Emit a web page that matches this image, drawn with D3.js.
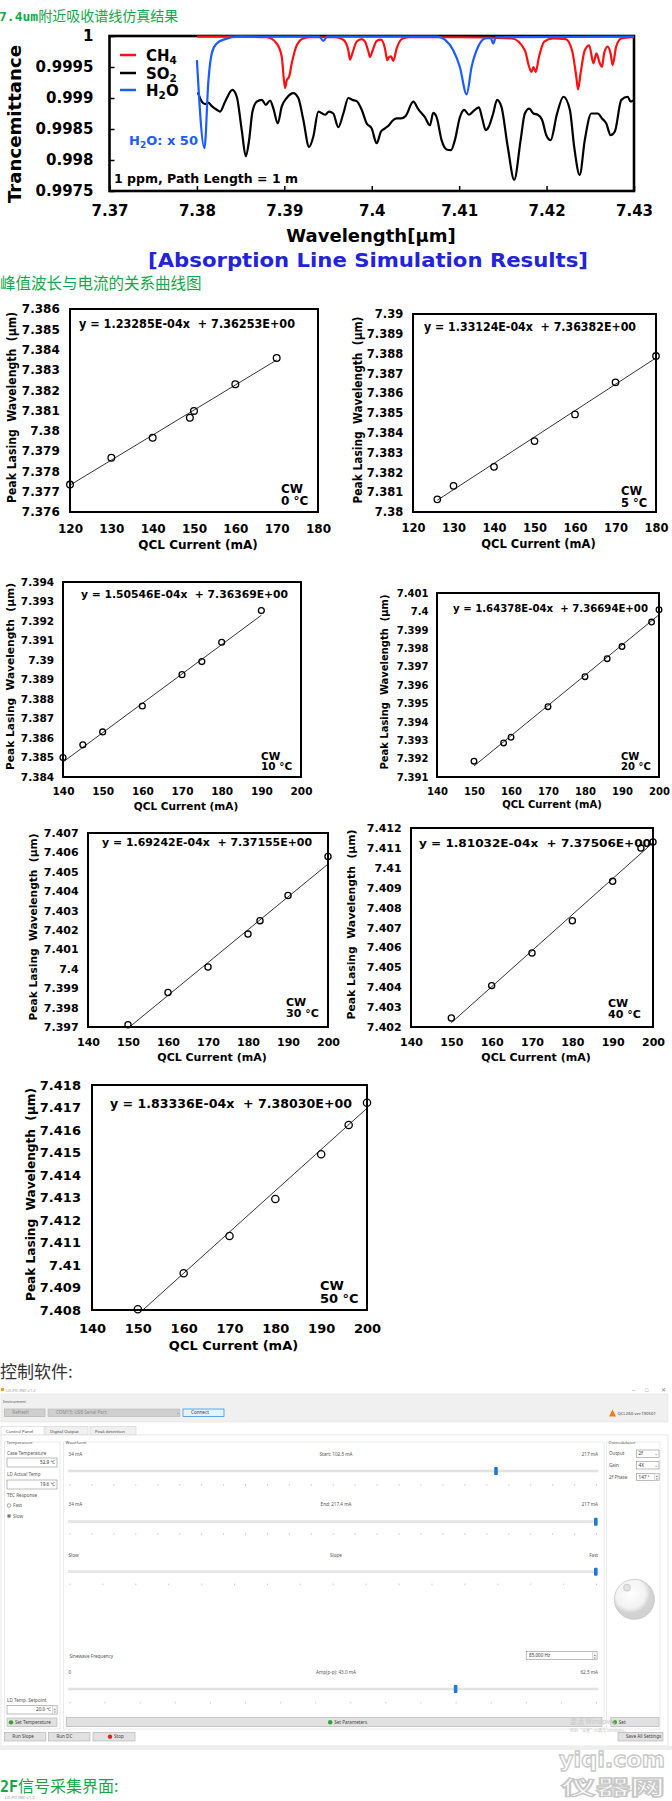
<!DOCTYPE html>
<html>
<head>
<meta charset="utf-8">
<script src="https://cdn.jsdelivr.net/npm/d3@7"></script>
<style>
body { margin: 0; background: #fff; }
svg { display: block; }
</style>
</head>
<body>
<script>
// ---------- absorption line simulation (wavelength um, transmittance) ----------
var wlTicks = [7.37, 7.38, 7.39, 7.4, 7.41, 7.42, 7.43];
var trTicks = [0.9975, 0.998, 0.9985, 0.999, 0.9995, 1];

var so2 = [[7.3801,0.99909],[7.38056,0.99894],[7.38094,0.9989],[7.38132,0.99892],[7.3817,0.99887],
  [7.38227,0.99881],[7.38265,0.99878],[7.38322,0.99894],[7.38406,0.99913],[7.38456,0.99902],
  [7.38513,0.99848],[7.38559,0.99806],[7.38597,0.99832],[7.38635,0.99878],[7.38685,0.99894],
  [7.38742,0.99897],[7.38788,0.99889],[7.38837,0.99896],[7.38875,0.99883],[7.38925,0.99859],
  [7.3897,0.99886],[7.39027,0.999],[7.39103,0.99908],[7.3916,0.999],[7.39217,0.99865],
  [7.39283,0.99821],[7.39332,0.99838],[7.39389,0.99878],[7.39465,0.99873],[7.39511,0.99878],
  [7.3956,0.99875],[7.39617,0.99853],[7.39675,0.99875],[7.39732,0.999],[7.39778,0.99897],
  [7.39828,0.99895],[7.39885,0.99881],[7.39942,0.99859],[7.39999,0.99851],[7.40056,0.99827],
  [7.40106,0.99846],[7.40151,0.99851],[7.40197,0.99856],[7.40235,0.99863],[7.40285,0.99867],
  [7.40334,0.99867],[7.40388,0.99871],[7.40475,0.99894],[7.40532,0.99882],[7.40608,0.99869],
  [7.40666,0.99856],[7.40703,0.99876],[7.40742,0.99869],[7.40799,0.99832],[7.40856,0.99817],
  [7.40906,0.99816],[7.40951,0.99832],[7.41008,0.99869],[7.41058,0.99881],[7.41112,0.99873],
  [7.41172,0.9988],[7.41226,0.99885],[7.41264,0.99867],[7.41303,0.99848],[7.4134,0.99854],
  [7.41389,0.99875],[7.41434,0.99897],[7.41483,0.99886],[7.41556,0.99821],[7.4163,0.99768],
  [7.41703,0.99832],[7.41751,0.99875],[7.41801,0.99883],[7.4185,0.99875],[7.41899,0.99873],
  [7.41948,0.99865],[7.41997,0.9984],[7.42046,0.99832],[7.4212,0.99875],[7.42193,0.99902],
  [7.42266,0.99881],[7.42316,0.99821],[7.42379,0.99776],[7.42437,0.99832],[7.42512,0.99875],
  [7.42585,0.99875],[7.42634,0.99867],[7.42683,0.99859],[7.42732,0.9984],[7.42781,0.99846],
  [7.42855,0.99897],[7.42928,0.99902],[7.42962,0.99894],[7.4299,0.99896]];

var ch4 = [[7.38,0.99999],[7.385,0.99999],[7.388,0.99998],[7.38913,0.99988],[7.3897,0.99967],
  [7.39008,0.99916],[7.39028,0.99929],[7.39054,0.99934],[7.39085,0.99956],[7.39142,0.99985],
  [7.39217,0.99996],[7.393,0.99998],[7.3958,0.99998],[7.39675,0.99994],[7.39732,0.99977],
  [7.39751,0.99962],[7.39778,0.99972],[7.39828,0.99991],[7.39885,0.99995],[7.39923,0.99991],
  [7.39961,0.99975],[7.3998,0.99966],[7.40006,0.99975],[7.40056,0.99992],[7.40106,0.99994],
  [7.40151,0.9998],[7.40178,0.99961],[7.40197,0.99966],[7.4022,0.99967],[7.40246,0.9996],
  [7.40285,0.9998],[7.40342,0.99995],[7.40418,0.99998],[7.41,0.99998],[7.41605,0.99996],
  [7.41751,0.99977],[7.41801,0.9995],[7.41826,0.99942],[7.4185,0.9995],[7.41875,0.99942],
  [7.41914,0.99967],[7.41973,0.99991],[7.4207,0.99996],[7.42218,0.99995],[7.42291,0.99977],
  [7.4234,0.99934],[7.4236,0.99914],[7.42389,0.9994],[7.42437,0.99977],[7.42487,0.99985],
  [7.42536,0.99956],[7.4257,0.99972],[7.42609,0.99956],[7.42634,0.9995],[7.42658,0.99972],
  [7.42698,0.99983],[7.42732,0.99972],[7.42756,0.99953],[7.42796,0.99983],[7.42855,0.99996],
  [7.4299,0.99998]];

var h2o = [[7.38,0.99961],[7.38086,0.99819],[7.38132,0.99929],[7.3817,0.99972],[7.38227,0.99988],
  [7.38322,0.99995],[7.38475,0.99999],[7.394,0.99999],[7.39446,0.99992],[7.3949,0.99999],
  [7.4075,0.99999],[7.40837,0.99994],[7.40932,0.99977],[7.41008,0.9995],[7.41085,0.99906],
  [7.41142,0.9995],[7.41218,0.99983],[7.41294,0.99996],[7.4136,0.99997],[7.41389,0.99988],
  [7.4142,0.99998],[7.43,0.99999]];

// ---------- peak lasing wavelength vs QCL current ----------
var temps = [0, 5, 10, 20, 30, 40, 50];
var currents = [
  [120, 130, 140, 149, 150, 160, 170],
  [126, 130, 140, 150, 160, 170, 180],
  [140, 145, 150, 160, 170, 175, 180, 190],
  [150, 158, 160, 170, 180, 186, 190, 198, 200],
  [150, 160, 170, 180, 183, 190, 200],
  [150, 160, 170, 180, 190, 197, 200],
  [150, 160, 170, 180, 190, 196, 200]
];
var peakWl = [
  [7.37735, 7.37867, 7.37966, 7.38064, 7.38098, 7.38229, 7.38359],
  [7.38064, 7.38132, 7.38228, 7.38358, 7.38493, 7.38655, 7.38788],
  [7.385, 7.38565, 7.38631, 7.38764, 7.38925, 7.38992, 7.39091, 7.39254],
  [7.39186, 7.39285, 7.39316, 7.39482, 7.39645, 7.39743, 7.39809, 7.39942, 7.40009],
  [7.39712, 7.39878, 7.40009, 7.40179, 7.40248, 7.40378, 7.40579],
  [7.40245, 7.40408, 7.40572, 7.40734, 7.40932, 7.41099, 7.4113],
  [7.40803, 7.40963, 7.41129, 7.41293, 7.41492, 7.41622, 7.41721]
];
var fitSlope = [1.23285e-4, 1.33124e-4, 1.50546e-4, 1.64378e-4, 1.69242e-4, 1.81032e-4, 1.83336e-4];
var fitIntercept = [7.36253, 7.36382, 7.36369, 7.36694, 7.37155, 7.37506, 7.38030];
var xAxisRange = [[120, 180], [120, 180], [140, 200], [140, 200], [140, 200], [140, 200], [140, 200]];
var yAxisMin = [7.376, 7.38, 7.384, 7.391, 7.397, 7.402, 7.408];

var W = 672, H = 1801;
var green = "#12a84a";
var svg = d3.select("body").append("svg").attr("width", W).attr("height", H);

function txt(g, x, y, s, o) {
  o = o || {};
  var t = g.append("text").attr("x", x).attr("y", y).text(s)
    .attr("font-family", o.ff || "DejaVu Sans")
    .attr("font-size", o.fs || 6)
    .attr("fill", o.fill || "#000");
  if (o.fw) t.attr("font-weight", o.fw);
  if (o.anchor) t.attr("text-anchor", o.anchor);
  if (o.len) t.attr("textLength", o.len).attr("lengthAdjust", "spacingAndGlyphs");
  return t;
}

// ---------- headings ----------
var h1 = svg.append("text").attr("x", -1).attr("y", 21).attr("fill", green);
h1.append("tspan").attr("font-family", "DejaVu Sans Mono").attr("font-weight", "bold").attr("font-size", 13).text("7.4um");
h1.append("tspan").attr("font-family", "Noto Sans CJK SC").attr("font-size", 14).text("附近吸收谱线仿真结果");

// ---------- spectrum chart ----------
var sx = d3.scaleLinear().domain([7.37, 7.43]).range([109.5, 634]);
var sy = d3.scaleLinear().domain([0.9975, 1]).range([191, 36]);

var spec = svg.append("g");
spec.append("g").attr("transform", "translate(0,191)")
  .call(d3.axisBottom(sx).tickValues(wlTicks).tickSize(-5).tickPadding(14).tickFormat(d3.format("~g")))
  .call(function (g) {
    g.select(".domain").remove();
    g.selectAll("line").attr("stroke", "#000").attr("stroke-width", 1.5);
    g.selectAll("text").attr("font-family", "DejaVu Sans").attr("font-weight", "bold").attr("font-size", 15).attr("fill", "#000");
  });
spec.append("g").attr("transform", "translate(109.5,0)")
  .call(d3.axisLeft(sy).tickValues(trTicks).tickSize(-5).tickPadding(16).tickFormat(d3.format("~g")))
  .call(function (g) {
    g.select(".domain").remove();
    g.selectAll("line").attr("stroke", "#000").attr("stroke-width", 1.5);
    g.selectAll("text").attr("font-family", "DejaVu Sans").attr("font-weight", "bold").attr("font-size", 15).attr("fill", "#000");
  });
spec.append("rect").attr("x", sx(7.37)).attr("y", sy(1))
  .attr("width", sx(7.43) - sx(7.37)).attr("height", sy(0.9975) - sy(1))
  .attr("fill", "none").attr("stroke", "#000").attr("stroke-width", 2.6);

var specLine = d3.line().x(function (d) { return sx(d[0]); }).y(function (d) { return sy(d[1]); })
  .curve(d3.curveMonotoneX);
[[so2, "#000"], [ch4, "#ff1010"], [h2o, "#1a5cff"]].forEach(function (s) {
  spec.append("path").attr("d", specLine(s[0])).attr("fill", "none")
    .attr("stroke", s[1]).attr("stroke-width", 2.2).attr("stroke-linejoin", "round");
});

// legend
var legend = [["CH", "4", "", "#ff1010", 55], ["SO", "2", "", "#000", 73], ["H", "2", "O", "#1a5cff", 90]];
legend.forEach(function (d) {
  spec.append("line").attr("x1", 120).attr("x2", 136).attr("y1", d[4]).attr("y2", d[4])
    .attr("stroke", d[3]).attr("stroke-width", 2.5);
  var t = txt(spec, 146, d[4] + 6, d[0], { fs: 15, fw: "bold" });
  t.append("tspan").attr("font-size", 10.5).attr("dy", 3).text(d[1]);
  if (d[2]) t.append("tspan").attr("dy", -3).text(d[2]);
});
var hx = txt(spec, 129, 145, "H", { fs: 13, fw: "bold", fill: "#1a5cff" });
hx.append("tspan").attr("font-size", 9).attr("dy", 3).text("2");
hx.append("tspan").attr("dy", -3).text("O: x 50");
txt(spec, 114, 183, "1 ppm, Path Length = 1 m", { fs: 12.5, fw: "bold" });

txt(spec, 371, 242, "Wavelength[\u03bcm]", { fs: 18, fw: "bold", anchor: "middle" });
svg.append("text").attr("transform", "translate(21,124) rotate(-90)")
  .attr("text-anchor", "middle").attr("font-family", "DejaVu Sans").attr("font-weight", "bold")
  .attr("font-size", 18).attr("textLength", 158).attr("lengthAdjust", "spacingAndGlyphs")
  .text("Trancemittance");
txt(svg, 368, 267, "[Absorption Line Simulation Results]",
  { fs: 19, fw: "bold", fill: "#2323dc", anchor: "middle", len: 440 });

txt(svg, 0, 289, "峰值波长与电流的关系曲线图", { ff: "Noto Sans CJK SC", fs: 15.5, fill: green });

// ---------- peak wavelength panels ----------
var panels = [
  { l: 70, t: 309, r: 318, b: 512, fs: 12, eqx: 79, eqy: 324, eqLen: 216, cwx: 281, cwy: 489, ylx: 12, ylLen: 191 },
  { l: 413, t: 314, r: 656, b: 512, fs: 11.5, eqx: 424, eqy: 327, eqLen: 212, cwx: 621, cwy: 491, ylx: 358, ylLen: 187 },
  { l: 63, t: 582, r: 301, b: 777, fs: 10.5, eqx: 81, eqy: 594, eqLen: 207, cwx: 261, cwy: 756, ylx: 10, ylLen: 187 },
  { l: 437, t: 593, r: 659, b: 777, fs: 10, eqx: 453, eqy: 608, eqLen: 195, cwx: 621, cwy: 756, ylx: 384, ylLen: 175 },
  { l: 88, t: 833, r: 328, b: 1027, fs: 11, eqx: 102, eqy: 842, eqLen: 210, cwx: 286, cwy: 1002, ylx: 33, ylLen: 187 },
  { l: 411, t: 828, r: 653, b: 1027, fs: 11, eqx: 419, eqy: 843, eqLen: 232, cwx: 608, cwy: 1003, ylx: 351, ylLen: 190 },
  { l: 92, t: 1085, r: 367, b: 1310, fs: 13, eqx: 110, eqy: 1103, eqLen: 242, cwx: 320, cwy: 1285, ylx: 30, ylLen: 213 }
];

function sci(v) {
  var p = v.toExponential(5).split("e");
  var e = +p[1];
  return p[0] + "E" + (e < 0 ? "-" : "+") + (Math.abs(e) < 10 ? "0" : "") + Math.abs(e);
}

panels.forEach(function (p, i) {
  var g = svg.append("g");
  var x = d3.scaleLinear().domain(xAxisRange[i]).range([p.l, p.r]);
  var y = d3.scaleLinear().domain([yAxisMin[i], yAxisMin[i] + 0.01]).range([p.b, p.t]);
  var fs = p.fs;
  var styleAxis = function (a) {
    a.select(".domain").remove();
    a.selectAll("text").attr("font-family", "DejaVu Sans").attr("font-weight", "bold")
      .attr("font-size", fs).attr("fill", "#000");
  };
  g.append("g").attr("transform", "translate(0," + p.b + ")")
    .call(d3.axisBottom(x).ticks(6).tickSize(0).tickPadding(fs * 1.05).tickFormat(d3.format("~g")))
    .call(styleAxis);
  g.append("g").attr("transform", "translate(" + p.l + ",0)")
    .call(d3.axisLeft(y).ticks(10).tickSize(0).tickPadding(fs * 0.85).tickFormat(d3.format("~g")))
    .call(styleAxis);

  var cid = "clip" + i;
  g.append("clipPath").attr("id", cid).append("rect")
    .attr("x", p.l).attr("y", p.t).attr("width", p.r - p.l).attr("height", p.b - p.t);
  var cx = d3.extent(currents[i]);
  g.append("line").attr("clip-path", "url(#" + cid + ")")
    .attr("x1", x(cx[0])).attr("y1", y(fitSlope[i] * cx[0] + fitIntercept[i]))
    .attr("x2", x(cx[1])).attr("y2", y(fitSlope[i] * cx[1] + fitIntercept[i]))
    .attr("stroke", "#333").attr("stroke-width", 1);

  g.append("rect").attr("x", p.l).attr("y", p.t).attr("width", p.r - p.l).attr("height", p.b - p.t)
    .attr("fill", "none").attr("stroke", "#000").attr("stroke-width", 2);

  g.selectAll("circle").data(currents[i]).enter().append("circle")
    .attr("cx", function (d) { return x(d); })
    .attr("cy", function (d, k) { return y(peakWl[i][k]); })
    .attr("r", fs * 0.28).attr("fill", "none").attr("stroke", "#000").attr("stroke-width", 1.3);

  txt(g, p.eqx, p.eqy, "y = " + sci(fitSlope[i]) + "x  + " + sci(fitIntercept[i]),
    { fs: fs, fw: "bold", len: p.eqLen }).attr("dy", "0.35em").style("white-space", "pre");
  txt(g, p.cwx, p.cwy, "CW", { fs: fs, fw: "bold" }).attr("dy", "0.35em");
  txt(g, p.cwx, p.cwy + fs * 1.0, temps[i] + " \u00b0C", { fs: fs, fw: "bold" }).attr("dy", "0.35em");

  txt(g, (p.l + p.r) / 2 + 4, p.b + fs * 2.75, "QCL Current (mA)", { fs: fs, fw: "bold", anchor: "middle" })
    .attr("dy", "0.35em");
  g.append("text")
    .attr("transform", "translate(" + p.ylx + "," + ((p.t + p.b) / 2 - 3) + ") rotate(-90)")
    .attr("dy", "0.35em").attr("text-anchor", "middle")
    .attr("font-family", "DejaVu Sans").attr("font-weight", "bold").attr("font-size", fs)
    .attr("textLength", p.ylLen).attr("lengthAdjust", "spacingAndGlyphs")
    .style("white-space", "pre")
    .text("Peak Lasing  Wavelength  (\u03bcm)");
});

// ---------- control software screenshot ----------
txt(svg, 0, 1378, "控制软件:", { ff: "Noto Sans CJK SC", fs: 17, fill: "#333" });

var ui = svg.append("g").attr("font-family", "Noto Sans");
var uiText = "#555";
function uTxt(x, y, s, o) { o = o || {}; o.ff = o.ff || "Noto Sans"; o.fs = o.fs || 4.6; o.fill = o.fill || uiText; return txt(ui, x, y, s, o); }
function button(x, y, w, h, label, icon, o) {
  o = o || {};
  ui.append("rect").attr("x", x).attr("y", y).attr("width", w).attr("height", h)
    .attr("fill", o.fill || "#e1e1e1").attr("stroke", o.stroke || "#adadad").attr("stroke-width", 0.6);
  var tx = o.center ? x + w / 2 : x + 8;
  if (icon) ui.append("circle").attr("cx", tx - 4).attr("cy", y + h / 2).attr("r", 2.2).attr("fill", icon);
  uTxt(tx, y + h / 2 + 1.6, label, { fill: o.color || "#444" });
}
function field(x, y, w, h, label, spin) {
  ui.append("rect").attr("x", x).attr("y", y).attr("width", w).attr("height", h)
    .attr("fill", "#fff").attr("stroke", "#7a7a7a").attr("stroke-width", 0.5);
  if (spin) {
    ui.append("rect").attr("x", x + w - 4.5).attr("y", y).attr("width", 4.5).attr("height", h)
      .attr("fill", "#f4f4f4").attr("stroke", "#aaa").attr("stroke-width", 0.4);
    uTxt(x + w - 2.25, y + h / 2, "\u25b4", { fs: 3.4, anchor: "middle" });
    uTxt(x + w - 2.25, y + h - 0.6, "\u25be", { fs: 3.4, anchor: "middle" });
  }
}
function slider(labelY, labels, trackY, thumbX, tickY, nTicks) {
  uTxt(68.6, labelY, labels[0]);
  uTxt(336, labelY, labels[1], { anchor: "middle" });
  uTxt(598, labelY, labels[2], { anchor: "end" });
  ui.append("rect").attr("x", 68.6).attr("y", trackY - 1).attr("width", 529.4).attr("height", 2)
    .attr("fill", "#e7e7e7").attr("stroke", "#d6d6d6").attr("stroke-width", 0.4);
  ui.append("rect").attr("x", thumbX - 1.8).attr("y", trackY - 4).attr("width", 3.6).attr("height", 8)
    .attr("rx", 0.8).attr("fill", "#1f7ad6");
  var tk = d3.scaleLinear().domain([0, nTicks - 1]).range([70, 596.5]);
  ui.selectAll(null).data(d3.range(nTicks)).enter().append("line")
    .attr("x1", function (d) { return tk(d); }).attr("x2", function (d) { return tk(d); })
    .attr("y1", tickY - 0.8).attr("y2", tickY + 0.8).attr("stroke", "#aaa").attr("stroke-width", 0.6);
}

// window frame
ui.append("rect").attr("x", 0).attr("y", 1385).attr("width", 672).attr("height", 362).attr("fill", "#fff");
ui.append("rect").attr("x", 1).attr("y", 1388).attr("width", 3).attr("height", 3).attr("fill", "#f0a020");
uTxt(6, 1391.5, "LD-PD INC v1.2", { fs: 4.2, fill: "#999" });
uTxt(632, 1392, "\u2013", { fs: 6, fill: "#888" });
uTxt(645, 1392, "\u25a1", { fs: 5.5, fill: "#888" });
uTxt(661, 1392, "\u2715", { fs: 5.5, fill: "#888" });

// instrument bar
ui.append("rect").attr("x", 1).attr("y", 1394).attr("width", 667).attr("height", 28)
  .attr("fill", "#f0f0f0").attr("stroke", "#ddd").attr("stroke-width", 0.5);
uTxt(3, 1402.5, "Instrument", { fs: 4.3 });
button(4.3, 1409, 40.7, 7.7, "Refresh", null, { fill: "#cfcfcf", color: "#8a8a8a" });
ui.append("rect").attr("x", 48).attr("y", 1409).attr("width", 132).attr("height", 7.7)
  .attr("fill", "#cfcfcf").attr("stroke", "#b5b5b5").attr("stroke-width", 0.5);
uTxt(56, 1414.4, "COM15: USB Serial Port", { fill: "#8a8a8a" });
uTxt(176, 1414.4, "\u2304", { fill: "#888" });
button(183, 1409, 41, 7.7, "Connect", null, { fill: "#e5f1fb", stroke: "#0078d7" });
ui.append("path").attr("d", "M609,1416.5 L612.5,1409.5 L616,1416.5 Z").attr("fill", "#f07b16");
uTxt(617.5, 1414.6, "QCL260 ver.190501", { fs: 4.3, fill: "#444" });

// tabs
[["Control Panel", 1, 43, "#fff"], ["Digital Output", 45, 43, "#f0f0f0"], ["Peak detection", 90, 46, "#f0f0f0"]]
  .forEach(function (t) {
    ui.append("rect").attr("x", t[1]).attr("y", 1426.5).attr("width", t[2]).attr("height", 8.5)
      .attr("fill", t[3]).attr("stroke", "#ccc").attr("stroke-width", 0.5);
    uTxt(t[1] + 5, 1432.5, t[0], { fs: 4.3, fill: "#444" });
  });
ui.append("rect").attr("x", 1).attr("y", 1435).attr("width", 667).attr("height", 311)
  .attr("fill", "#fff").attr("stroke", "#d0d0d0").attr("stroke-width", 0.5);

// group boxes
[["Temperature", 4.5, 55.5], ["Waveform", 63.5, 540.5], ["Demodulator", 606.5, 53.5]].forEach(function (b) {
  ui.append("rect").attr("x", b[1]).attr("y", 1442).attr("width", b[2]).attr("height", 287)
    .attr("fill", "none").attr("stroke", "#dcdcdc").attr("stroke-width", 0.6);
  ui.append("rect").attr("x", b[1] + 1.5).attr("y", 1440).attr("width", b[0].length * 2.3).attr("height", 4).attr("fill", "#fff");
  uTxt(b[1] + 2, 1444, b[0], { fs: 4.3 });
});

// temperature group
uTxt(7, 1454.5, "Case Temperature");
field(7, 1458, 50, 9);
uTxt(55, 1464.3, "52.9 \u2103", { anchor: "end", fill: "#333" });
uTxt(7, 1475.5, "LD Actual Temp");
field(7, 1480, 50, 9);
uTxt(55, 1486.3, "19.6 \u2103", { anchor: "end", fill: "#333" });
uTxt(7, 1496.5, "TEC Response");
ui.append("circle").attr("cx", 9).attr("cy", 1505.5).attr("r", 1.8).attr("fill", "#fff").attr("stroke", "#555").attr("stroke-width", 0.5);
uTxt(13, 1507, "Fast");
ui.append("circle").attr("cx", 9).attr("cy", 1516).attr("r", 1.8).attr("fill", "#fff").attr("stroke", "#555").attr("stroke-width", 0.5);
ui.append("circle").attr("cx", 9).attr("cy", 1516).attr("r", 0.9).attr("fill", "#333");
uTxt(13, 1517.5, "Slow");
uTxt(7, 1701.5, "LD Temp. Setpoint");
field(7, 1705.5, 50, 8.5, null, true);
uTxt(51, 1711.3, "20.0 \u2103", { anchor: "end", fill: "#333" });
button(7, 1718, 50, 8.7, "Set Temperature", "#2da52d");

// waveform group
slider(1455.5, ["34 mA", "Start:  102.5 mA", "217 mA"], 1471, 496, 1485, 25);
slider(1505.5, ["34 mA", "End:  217.4 mA", "217 mA"], 1521.7, 595.8, 1534, 25);
slider(1556.5, ["Slow", "Slope", "Fast"], 1571.7, 595.8, 1584.3, 17);
uTxt(69.4, 1657.5, "Sinewave Frequency");
field(526.4, 1651.7, 70.6, 7.6, null, true);
uTxt(529, 1657.3, "85.000 Hz", { fill: "#333" });
slider(1673.5, ["0", "Amp(p-p):  43.0 mA", "62.5 mA"], 1689, 455.6, 1702.7, 16);
button(66.4, 1717.7, 535.6, 9, "Set Parameters", "#2da52d", { center: true });

// demodulator group
[["Output", "2f", 1450], ["Gain", "4X", 1461.7], ["2f Phase", "147 \u00b0", 1473.3]].forEach(function (d, k) {
  uTxt(609, d[2] + 5.3, d[0]);
  field(636.5, d[2], 22.5, 7.3, null, k === 2);
  uTxt(638.5, d[2] + 5.3, d[1], { fill: "#333" });
  if (k < 2) uTxt(654, d[2] + 5.3, "\u2304", { fill: "#777" });
});
var grad = svg.append("defs").append("radialGradient").attr("id", "knob").attr("cx", "40%").attr("cy", "35%");
grad.append("stop").attr("offset", "0%").attr("stop-color", "#ffffff");
grad.append("stop").attr("offset", "75%").attr("stop-color", "#f2f2f2");
grad.append("stop").attr("offset", "100%").attr("stop-color", "#d2d2d2");
ui.append("circle").attr("cx", 634.4).attr("cy", 1599.3).attr("r", 20).attr("fill", "url(#knob)")
  .attr("stroke", "#c4c4c4").attr("stroke-width", 0.8);
ui.append("circle").attr("cx", 627).attr("cy", 1587.7).attr("r", 3.5).attr("fill", "#e2e2e2")
  .attr("stroke", "#aaa").attr("stroke-width", 0.5);
button(610.8, 1717.7, 48.2, 9, "Set", "#2da52d");

// bottom buttons
button(4.3, 1732.3, 41.6, 8.7, "Run Slope", null);
button(48.4, 1732.3, 41.6, 8.7, "Run DC", null);
button(93, 1732.3, 42, 8.7, "Stop", "#e02020", { center: true });
button(618, 1732.3, 45, 8.7, "Save All Settings", null);
uTxt(570, 1724, "激活 Windows", { ff: "Noto Sans CJK SC", fs: 7, fill: "#c8c8c8" });
uTxt(570, 1731.6, "转到“设置”以激活 Windows。", { ff: "Noto Sans CJK SC", fs: 4, fill: "#c8c8c8" });
ui.append("rect").attr("x", 0).attr("y", 1746).attr("width", 672).attr("height", 4).attr("fill", "#eeeeee");

// second heading and watermark
var h2 = svg.append("text").attr("x", 0).attr("y", 1792).attr("fill", green);
h2.append("tspan").attr("font-family", "DejaVu Sans Mono").attr("font-weight", "bold").attr("font-size", 15).text("2F");
h2.append("tspan").attr("font-family", "Noto Sans CJK SC").attr("font-size", 16).text("信号采集界面:");
txt(svg, 5, 1799, "LD-PD INC v1.2", { ff: "Noto Sans", fs: 4.2, fill: "#999" });

txt(svg, 612, 1767, "yiqi.com", { fs: 22, fw: "bold", anchor: "middle", fill: "#fff", len: 106 })
  .attr("stroke", "#c8c8c8").attr("stroke-width", 1.3);
txt(svg, 613, 1795, "仪器网", { ff: "Noto Sans CJK SC", fs: 20, fw: "bold", anchor: "middle", fill: "#fff", len: 104 })
  .attr("stroke", "#c8c8c8").attr("stroke-width", 1.3);
</script>
</body>
</html>
